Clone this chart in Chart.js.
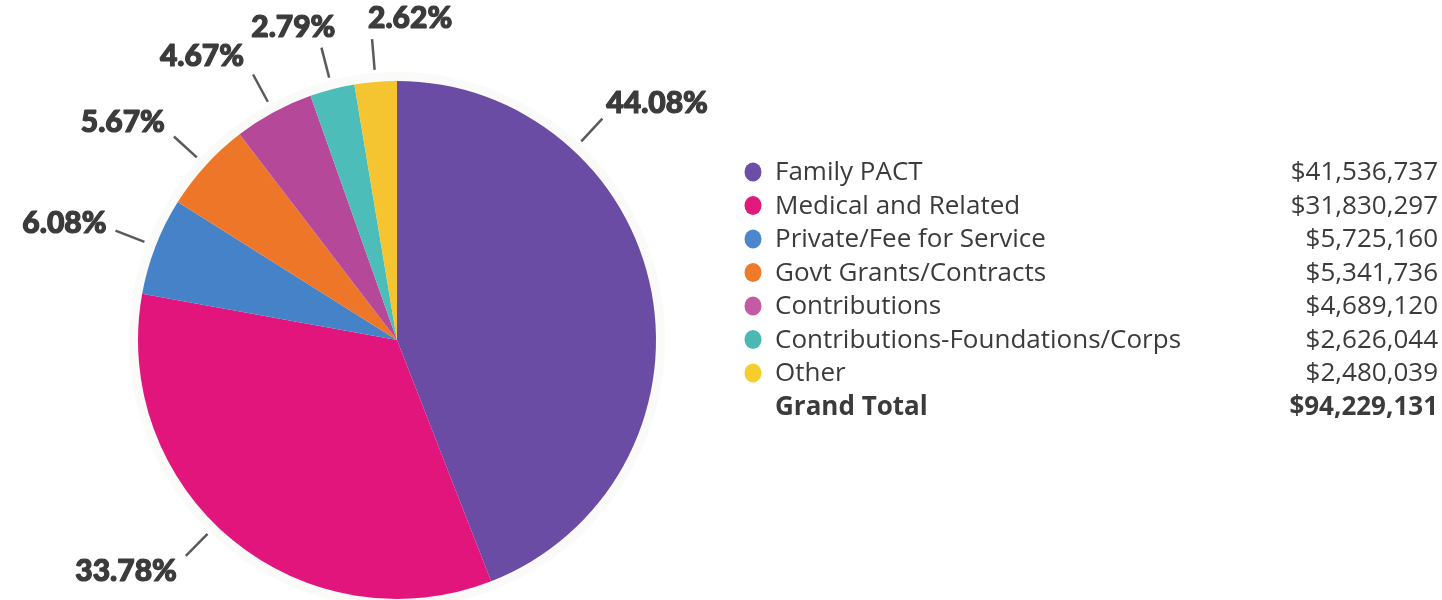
<!DOCTYPE html>
<html>
<head>
<meta charset="utf-8">
<script src="https://cdn.jsdelivr.net/npm/chart.js@4/dist/chart.umd.min.js"></script>
<style>
  html, body { margin: 0; padding: 0; background: #fff; }
  #grafico { display: block; }
</style>
</head>
<body>
<canvas id="grafico" width="1442" height="600"></canvas>
<script>
const categorias = [
    "Family PACT",
    "Medical and Related",
    "Private/Fee for Service",
    "Govt Grants/Contracts",
    "Contributions",
    "Contributions-Foundations/Corps",
    "Other"
];
const valores = [41536737, 31830297, 5725160, 5341736, 4689120, 2626044, 2480039];
const percentuais = ["44.08%", "33.78%", "6.08%", "5.67%", "4.67%", "2.79%", "2.62%"];
const grandTotal = 94229131;
const cores = ["#6b4ca4", "#e1157b", "#4682c7", "#ee7628", "#b6489a", "#4dbdb9", "#f4c431"];
const coresLegenda = ["#6b4fa6", "#e0197d", "#4a87cc", "#ef7a2a", "#c45aa6", "#4cb8b4", "#f5ce2d"];

const dinheiro = (v) => "$" + v.toLocaleString("en-US");

const rotulos = {
    id: "rotulos",
    beforeDatasetsDraw(chart) {
        const ctx = chart.ctx;
        const arco = chart.getDatasetMeta(0).data[0];
        ctx.save();
        ctx.fillStyle = "#fafaf8";
        ctx.beginPath();
        ctx.arc(arco.x, arco.y, arco.outerRadius + 9, 0, Math.PI * 2);
        ctx.fill();
        ctx.restore();
    },
    afterDatasetsDraw(chart) {
        const ctx = chart.ctx;
        const meta = chart.getDatasetMeta(0);
        const ultimo = meta.data.length - 1;
        ctx.save();
        ctx.font = "900 30px Lato";
        ctx.textBaseline = "middle";
        meta.data.forEach((arco, i) => {
            const p = arco.getProps(["x", "y", "startAngle", "endAngle", "outerRadius"], true);
            // the two big slices have their leader a bit off the middle
            const frac = i === 0 ? 0.27 : i === 1 ? 0.54 : 0.5;
            const ang = p.startAngle + (p.endAngle - p.startAngle) * frac;
            const c = Math.cos(ang), s = Math.sin(ang);
            const r1 = p.outerRadius + 12, r2 = p.outerRadius + 43;
            const fx = p.x + c * r2, fy = p.y + s * r2;
            ctx.strokeStyle = "#5a5a5a";
            ctx.lineWidth = 2.5;
            ctx.beginPath();
            ctx.moveTo(p.x + c * r1, p.y + s * r1);
            ctx.lineTo(fx, fy);
            ctx.stroke();

            const topo = Math.abs(c) <= 0.3;
            const paraDireita = c > 0.3 || (topo && i === ultimo);
            let tx;
            if (paraDireita) {
                ctx.textAlign = "left";
                tx = fx + (topo ? -4 : 4);
            } else {
                ctx.textAlign = "right";
                tx = fx + (topo ? 14 : -9);
            }
            const ty = fy + s * 21;
            ctx.fillStyle = "#3b3b3b";
            ctx.strokeStyle = "#3b3b3b";
            ctx.lineWidth = 1.2;
            ctx.lineJoin = "round";
            ctx.strokeText(percentuais[i], tx, ty);
            ctx.fillText(percentuais[i], tx, ty);
        });
        ctx.restore();
    },
    afterDraw(chart) {
        const ctx = chart.ctx;
        ctx.save();
        ctx.textBaseline = "middle";
        const y0 = 173, passo = 33.5;
        categorias.forEach((nome, i) => {
            const y = y0 + i * passo;
            ctx.fillStyle = coresLegenda[i];
            ctx.beginPath();
            ctx.ellipse(753, y - 1, 8.5, 9.5, 0, 0, Math.PI * 2);
            ctx.fill();
            ctx.fillStyle = "#3b3b3b";
            ctx.font = "26px 'Open Sans'";
            ctx.textAlign = "left";
            ctx.fillText(nome, 775, y);
            ctx.textAlign = "right";
            ctx.fillText(dinheiro(valores[i]), 1438, y);
        });
        const yt = y0 + 7 * passo;
        ctx.font = "bold 26px 'Open Sans'";
        ctx.textAlign = "left";
        ctx.fillText("Grand Total", 775, yt);
        ctx.textAlign = "right";
        ctx.fillText(dinheiro(grandTotal), 1438, yt);
        ctx.restore();
    }
};

new Chart(document.getElementById("grafico"), {
    type: "pie",
    data: {
        labels: categorias,
        datasets: [{
            data: valores,
            backgroundColor: cores,
            borderWidth: 0
        }]
    },
    options: {
        responsive: false,
        animation: false,
        layout: { padding: { left: 138, right: 786, top: 81, bottom: 1 } },
        plugins: {
            legend: { display: false },
            tooltip: { enabled: false }
        }
    },
    plugins: [rotulos]
});
</script>
</body>
</html>
